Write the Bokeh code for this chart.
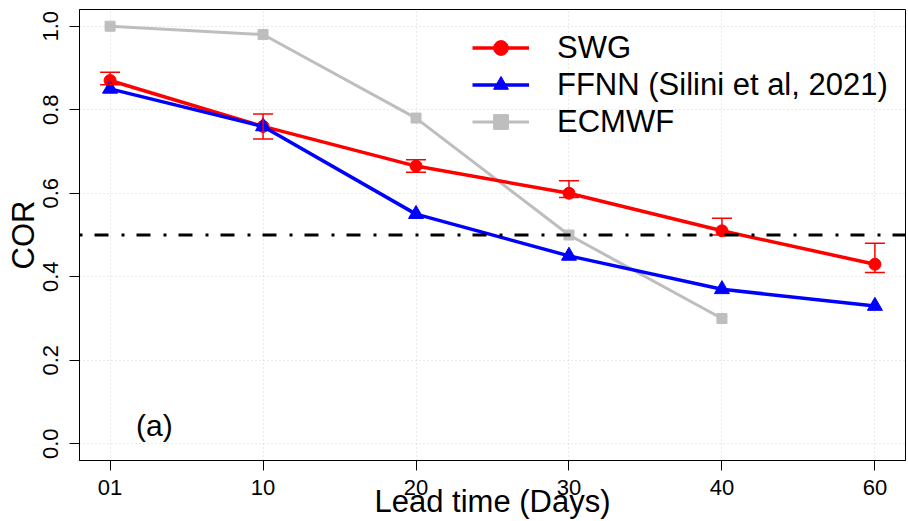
from bokeh.plotting import figure
from bokeh.models import (Range1d, FixedTicker, PrintfTickFormatter, Span, Whisker,
                          TeeHead, ColumnDataSource, Legend, LegendItem)
from bokeh.embed import file_html
from bokeh.resources import INLINE
from bokeh.core.properties import value

# ---- data ----
lead_labels = ["01", "10", "20", "30", "40", "60"]
swg = [0.87, 0.76, 0.665, 0.60, 0.51, 0.43]
swg_lo = [0.86, 0.73, 0.65, 0.59, 0.50, 0.41]
swg_hi = [0.89, 0.79, 0.68, 0.63, 0.54, 0.48]
ffnn = [0.85, 0.76, 0.55, 0.45, 0.37, 0.33]
ecmwf = [1.00, 0.98, 0.78, 0.50, 0.30]
y_ticks = [0.0, 0.2, 0.4, 0.6, 0.8, 1.0]
threshold = 0.5

xpos = list(range(1, len(lead_labels) + 1))
FONT = "Liberation Sans"

p = figure(width=908, height=521, output_backend="svg", toolbar_location=None,
           x_range=Range1d(0.8, 6.2), y_range=Range1d(-0.04, 1.04),
           min_border_left=79, min_border_right=3, min_border_top=9, min_border_bottom=60)

p.background_fill_color = "white"
p.border_fill_color = "white"
p.outline_line_color = "black"
p.outline_line_width = 1

# axes
p.xaxis.ticker = FixedTicker(ticks=xpos)
p.xaxis.major_label_overrides = {x: lab for x, lab in zip(xpos, lead_labels)}
p.yaxis.ticker = FixedTicker(ticks=y_ticks)
p.yaxis.formatter = PrintfTickFormatter(format="%.1f")
p.yaxis.major_label_orientation = "vertical"

for ax in (p.xaxis, p.yaxis):
    ax.axis_line_color = "black"
    ax.axis_line_width = 1
    ax.major_tick_line_color = "black"
    ax.major_tick_in = 0
    ax.major_tick_out = 10
    ax.minor_tick_line_color = None
    ax.major_label_text_font = FONT
    ax.major_label_text_font_size = "22px"
    ax.major_label_text_color = "black"
    ax.axis_label_text_font = FONT
    ax.axis_label_text_font_size = "31px"
    ax.axis_label_text_font_style = "normal"
    ax.axis_label_text_color = "black"

p.xaxis.axis_label = "Lead time (Days)"
p.xaxis.major_label_standoff = 9
p.xaxis.axis_label_standoff = -14
p.yaxis.axis_label = "COR"
p.yaxis.major_label_standoff = 11
p.yaxis.axis_label_standoff = 0

# grid
for g in (p.xgrid, p.ygrid):
    g.grid_line_color = "#d3d3d3"
    g.grid_line_dash = "1 3"
    g.grid_line_width = 1

# series
r_ec_l = p.line(xpos[:len(ecmwf)], ecmwf, line_color="#bebebe", line_width=3)
r_ec_m = p.scatter(xpos[:len(ecmwf)], ecmwf, marker="square", size=10,
                   fill_color="#bebebe", line_color="#bebebe")

r_swg_l = p.line(xpos, swg, line_color="red", line_width=3.5)
err_src = ColumnDataSource(data=dict(x=xpos, lo=swg_lo, hi=swg_hi))
wh = Whisker(base="x", lower="lo", upper="hi", source=err_src,
             line_color="red", line_width=1.5, level="glyph",
             upper_head=TeeHead(size=20, line_color="red", line_width=1.5),
             lower_head=TeeHead(size=20, line_color="red", line_width=1.5))
p.add_layout(wh)
r_swg_m = p.scatter(xpos, swg, marker="circle", size=12, fill_color="red", line_color="red")

r_ff_l = p.line(xpos, ffnn, line_color="blue", line_width=3.5)
r_ff_m = p.scatter(xpos, ffnn, marker="triangle", size=15, fill_color="blue", line_color="blue")

p.add_layout(Span(location=threshold, dimension="width", line_color="black",
                  line_width=3, line_dash="3 12 14 13"))

p.text(x=[1.29], y=[0.045], text=["(a)"], text_font=value(FONT), text_font_size="30px",
       text_align="center", text_baseline="middle", text_color="black")

legend = Legend(items=[
    LegendItem(label="SWG", renderers=[r_swg_l, r_swg_m]),
    LegendItem(label="FFNN (Silini et al, 2021)", renderers=[r_ff_l, r_ff_m]),
    LegendItem(label="ECMWF", renderers=[r_ec_l, r_ec_m]),
], location=(393, 320))
legend.border_line_alpha = 0
legend.background_fill_alpha = 0
legend.padding = 0
legend.margin = 0
legend.spacing = 0
legend.glyph_width = 57
legend.glyph_height = 37
legend.label_height = 37
legend.label_standoff = 28
legend.label_text_font = FONT
legend.label_text_font_size = "31px"
legend.label_text_color = "black"
legend.label_text_baseline = "middle"
p.add_layout(legend)

open("out.html", "w").write(file_html(p, INLINE))
